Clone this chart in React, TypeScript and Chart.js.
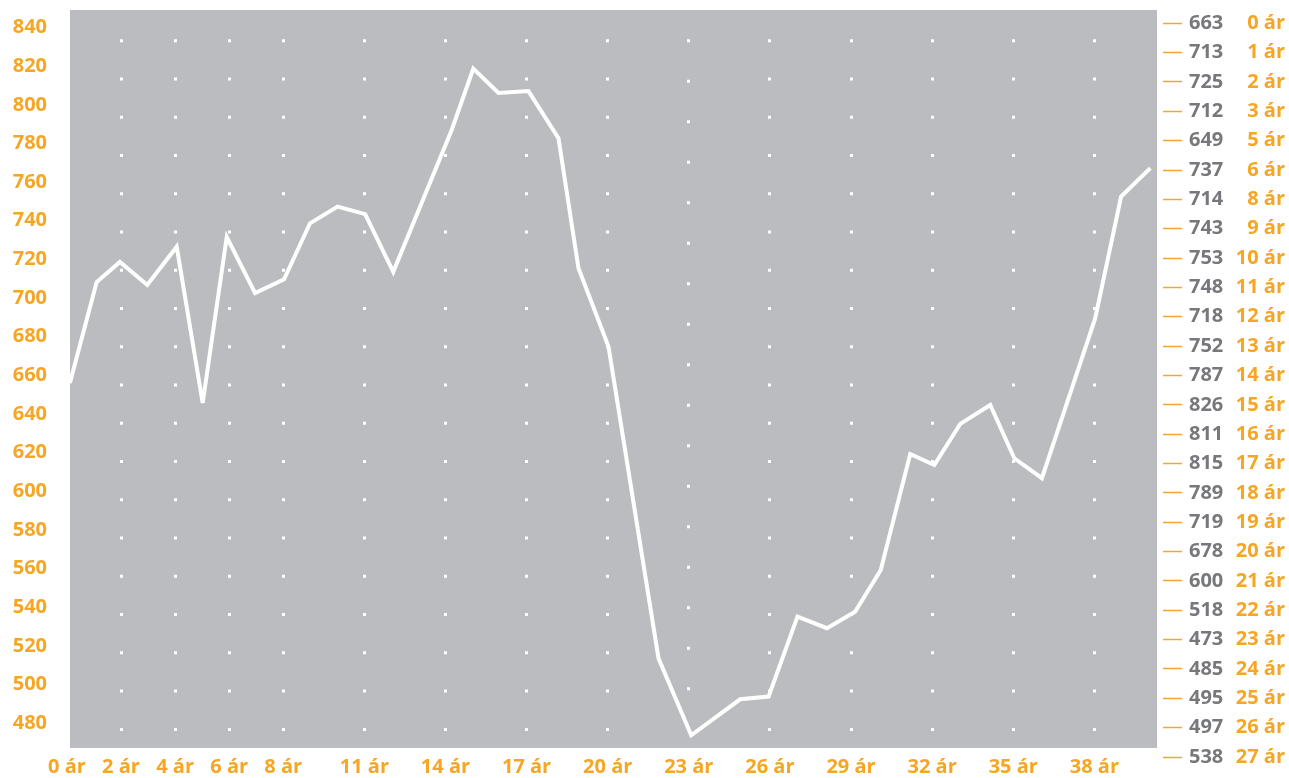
import React, { useEffect, useRef } from 'react';
import { Chart, registerables } from 'chart.js';

Chart.register(...registerables);

// ---- data ----
const xYears = [
  0.11, 1.1, 1.96, 2.97, 4.06, 5.02, 5.91, 6.96, 8.03, 8.99, 10.01, 11.03, 12.07,
  14.23, 15.03, 15.96, 17.07, 18.18, 18.92, 20.03, 21.88, 23.09, 24.9, 25.95,
  27.02, 28.11, 29.15, 30.1, 31.19, 32.08, 33.04, 34.15, 35.04, 36.06, 38.03,
  38.99, 40.07,
];
const lineValues = [
  656.1, 708.3, 718.7, 706.8, 726.6, 645.7, 731.6, 702.6, 709.7, 738.7, 747.3,
  743.4, 713.6, 787.0, 818.7, 806.1, 807.1, 782.7, 715.4, 674.9, 513.6, 473.8,
  492.4, 493.8, 535.2, 529.2, 537.7, 559.3, 619.3, 613.6, 634.9, 644.7, 617.1,
  606.8, 689.5, 752.5, 767.2,
];
const xTickYears = [0, 2, 4, 6, 8, 11, 14, 17, 20, 23, 26, 29, 32, 35, 38];
const yTickValues = [480, 500, 520, 540, 560, 580, 600, 620, 640, 660, 680, 700, 720, 740, 760, 780, 800, 820, 840];
const sideValues = [
  663, 713, 725, 712, 649, 737, 714, 743, 753, 748, 718, 752, 787, 826, 811,
  815, 789, 719, 678, 600, 518, 473, 485, 495, 497, 538,
];
const sideYears = [
  '0 ár', '1 ár', '2 ár', '3 ár', '5 ár', '6 ár', '8 ár', '9 ár', '10 ár',
  '11 ár', '12 ár', '13 ár', '14 ár', '15 ár', '16 ár', '17 ár', '18 ár',
  '19 ár', '20 ár', '21 ár', '22 ár', '23 ár', '24 ár', '25 ár', '26 ár', '27 ár',
];
const yearSuffix = ' ár';

// ---- styles ----
const ORANGE = '#F6A623';
const GRAY_TEXT = '#77787B';
const PLOT_BG = '#BBBCBF';
const LINE = '#FFFFFF';
const FONT = { family: '"Open Sans", "Noto Sans", sans-serif', size: 20, weight: 'bold' as const };

const plotBackground = {
  id: 'plotBackground',
  beforeDraw(chart: any) {
    const { ctx, chartArea: a } = chart;
    ctx.save();
    ctx.fillStyle = PLOT_BG;
    ctx.fillRect(a.left, a.top, a.right - a.left, a.bottom - a.top);
    ctx.restore();
  },
};

const miter = {
  id: 'miter',
  beforeDatasetsDraw(chart: any) {
    chart.ctx.miterLimit = 4;
  },
};

const zeroPad = (s: any) => {
  s.paddingTop = 0;
  s.paddingBottom = 0;
  s.paddingLeft = 0;
  s.paddingRight = 0;
};

export default function App() {
  const ref = useRef<HTMLCanvasElement>(null);

  useEffect(() => {
    document.body.style.margin = '0';
    const canvas = ref.current;
    if (!canvas) return;
    const sideTicks = (s: any) => {
      s.ticks = sideValues.map((_, i) => ({ value: i }));
    };
    const chart = new Chart(canvas, {
      type: 'line',
      data: {
        datasets: [
          {
            data: xYears.map((x, i) => ({ x, y: lineValues[i] })),
            borderColor: LINE,
            borderWidth: 4,
            pointRadius: 0,
            tension: 0,
            fill: false,
            borderJoinStyle: 'miter',
            xAxisID: 'x',
            yAxisID: 'y',
          },
        ],
      },
      options: {
        animation: false,
        responsive: false,
        events: [],
        layout: { padding: { top: 10, right: 4, left: 0, bottom: 0 } },
        plugins: { legend: { display: false }, tooltip: { enabled: false } },
        scales: {
          x: {
            type: 'linear',
            position: 'bottom',
            min: 0.113,
            max: 40.317,
            afterBuildTicks: (s: any) => {
              s.ticks = xTickYears.map((v) => ({ value: v }));
            },
            afterFit: (s: any) => {
              s.height = 30;
              zeroPad(s);
            },
            ticks: {
              autoSkip: false,
              maxRotation: 0,
              padding: 7,
              color: ORANGE,
              font: FONT,
              callback: (v: any) => `${v}${yearSuffix}`,
            },
            grid: {
              display: true,
              drawTicks: false,
              lineWidth: 3,
              color: (c: any) => (c.tick && c.tick.value === 0 ? 'rgba(0,0,0,0)' : '#FFFFFF'),
            },
            border: {
              display: false,
              dash: (c: any) => (c.tick && c.tick.value === 23 ? [3, 37.5] : [3, 35.26]),
              dashOffset: (c: any) => (c.tick && c.tick.value === 23 ? 11.3 : 9.06),
            },
          },
          y: {
            type: 'linear',
            position: 'left',
            min: 467.2,
            max: 849.05,
            afterBuildTicks: (s: any) => {
              s.ticks = yTickValues.map((v) => ({ value: v }));
            },
            afterFit: (s: any) => {
              s.width = 70;
              zeroPad(s);
            },
            ticks: {
              autoSkip: false,
              padding: 23,
              color: ORANGE,
              font: FONT,
              callback: (v: any) => String(v),
            },
            grid: { display: false, drawTicks: false },
            border: { display: false },
          },
          yA: {
            type: 'linear',
            position: 'right',
            weight: 0,
            reverse: true,
            min: -0.4532,
            max: 24.693,
            afterBuildTicks: sideTicks,
            afterFit: (s: any) => {
              s.width = 68;
              zeroPad(s);
            },
            ticks: {
              autoSkip: false,
              padding: 7,
              color: GRAY_TEXT,
              font: FONT,
              callback: (v: any) => String(sideValues[v]),
            },
            grid: {
              display: true,
              drawOnChartArea: false,
              drawTicks: true,
              tickLength: 25,
              tickColor: ORANGE,
              tickWidth: 1.5,
              tickBorderDash: [0, 6, 19, 100],
            },
            border: { display: false },
          },
          yB: {
            type: 'linear',
            position: 'right',
            weight: 1,
            reverse: true,
            min: -0.4532,
            max: 24.693,
            afterBuildTicks: sideTicks,
            afterFit: (s: any) => {
              s.width = 60;
              zeroPad(s);
            },
            ticks: {
              autoSkip: false,
              padding: 4,
              crossAlign: 'far',
              color: ORANGE,
              font: FONT,
              callback: (v: any) => sideYears[v],
            },
            grid: { display: false, drawTicks: false },
            border: { display: false },
          },
        },
      } as any,
      plugins: [plotBackground, miter],
    });
    return () => chart.destroy();
  }, []);

  return (
    <div style={{ position: 'fixed', left: 0, top: 0, width: 1289, height: 778, overflow: 'hidden' }}>
      <canvas ref={ref} width={1289} height={778} style={{ display: 'block' }} />
    </div>
  );
}
